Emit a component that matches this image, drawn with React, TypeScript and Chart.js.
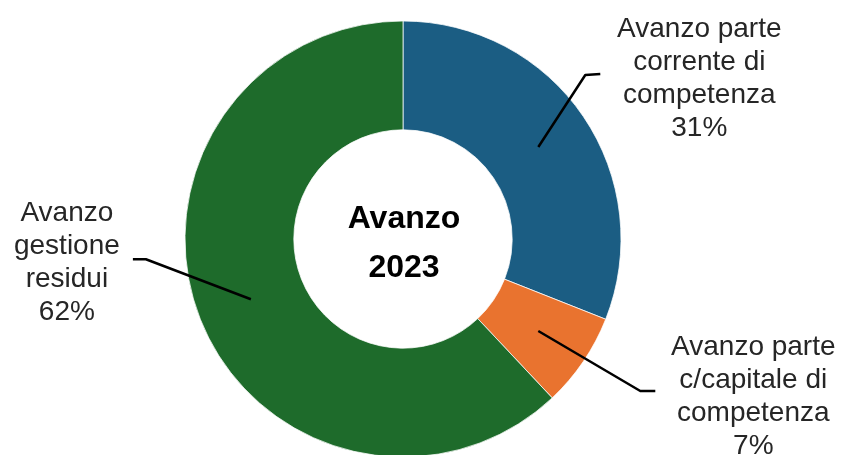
import React, { useEffect, useRef } from "react";
import { Chart, registerables } from "chart.js";

Chart.register(...registerables);

const categories = [
  "Avanzo parte corrente di competenza",
  "Avanzo parte c/capitale di competenza",
  "Avanzo gestione residui",
];
const values = [31, 7, 62];
const labelLines = [
  ["Avanzo parte", "corrente di", "competenza"],
  ["Avanzo parte", "c/capitale di", "competenza"],
  ["Avanzo", "gestione", "residui"],
];
const centerLines = ["Avanzo", "2023"];
const colors = ["#1B5D83", "#E9732F", "#1E6B2B"];

// leader-line & text offsets relative to each slice's anchor (style only)
const labelLayout = [
  { elbow: [47, -72], end: [62, -73], text: [161, -110] },
  { elbow: [102, 60], end: [117, 60], text: [215, 24] },
  { elbow: [-105, -40], end: [-118, -40], text: [-184, -78] },
];

const labelPlugin = {
  id: "sliceLabels",
  afterDraw(chart: any) {
    const ctx = chart.ctx;
    const meta = chart.getDatasetMeta(0);
    const total = values.reduce((a, b) => a + b, 0);
    ctx.save();
    meta.data.forEach((arc: any, i: number) => {
      const p = arc.getProps(["x", "y", "startAngle", "endAngle", "innerRadius", "outerRadius"], true);
      const mid = (p.startAngle + p.endAngle) / 2;
      const r = (p.innerRadius + p.outerRadius) / 2;
      const ax = p.x + Math.cos(mid) * r;
      const ay = p.y + Math.sin(mid) * r;
      const L = labelLayout[i];
      ctx.beginPath();
      ctx.strokeStyle = "#000000";
      ctx.lineWidth = 2.5;
      ctx.lineJoin = "round";
      ctx.moveTo(ax, ay);
      ctx.lineTo(ax + L.elbow[0], ay + L.elbow[1]);
      ctx.lineTo(ax + L.end[0], ay + L.end[1]);
      ctx.stroke();
      const lines = [...labelLines[i], Math.round((values[i] / total) * 100) + "%"];
      ctx.fillStyle = "#262626";
      ctx.font = "28px 'Liberation Sans', Arial, sans-serif";
      ctx.textAlign = "center";
      ctx.textBaseline = "alphabetic";
      lines.forEach((t, k) => {
        ctx.fillText(t, ax + L.text[0], ay + L.text[1] + k * 33);
      });
    });
    // center text
    const a0 = meta.data[0];
    if (a0) {
      const c = a0.getProps(["x", "y"], true);
      ctx.fillStyle = "#000000";
      ctx.font = "bold 32px 'Liberation Sans', Arial, sans-serif";
      ctx.textAlign = "center";
      ctx.fillText(centerLines[0], c.x + 1, c.y - 11);
      ctx.fillText(centerLines[1], c.x + 1, c.y + 38);
    }
    ctx.restore();
  },
};

export default function App() {
  const ref = useRef<HTMLCanvasElement>(null);
  useEffect(() => {
    if (!ref.current) return;
    const chart = new Chart(ref.current, {
      type: "doughnut",
      data: {
        labels: categories,
        datasets: [
          {
            data: values,
            backgroundColor: colors,
            borderColor: "#ffffff",
            borderWidth: 0.75,
          },
        ],
      },
      options: {
        responsive: false,
        animation: false,
        devicePixelRatio: 1,
        radius: 218,
        cutout: 109,
        layout: { padding: { top: 21, bottom: 21, left: 0, right: 39 } },
        plugins: {
          legend: { display: false },
          tooltip: { enabled: false },
        },
      },
      plugins: [labelPlugin],
    } as any);
    return () => chart.destroy();
  }, []);
  return (
    <div
      style={{
        position: "fixed",
        top: 0,
        left: 0,
        width: 845,
        height: 455,
        overflow: "hidden",
        background: "#ffffff",
      }}
    >
      <canvas ref={ref} width={845} height={478} style={{ display: "block" }} />
    </div>
  );
}
